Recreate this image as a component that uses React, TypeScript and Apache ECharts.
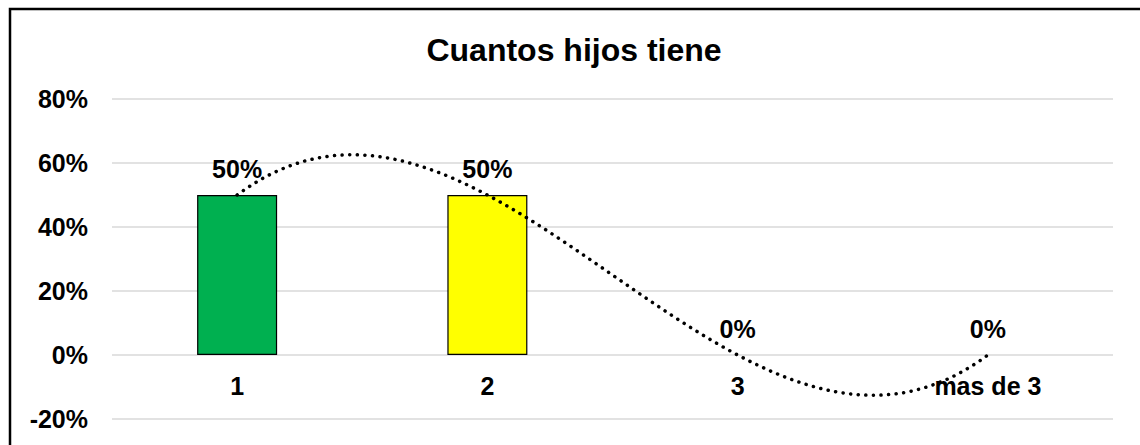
import React, { useEffect, useRef } from "react";
import * as echarts from "echarts";

const title = "Cuantos hijos tiene";
const categories = ["1", "2", "3", "mas de 3"];
const values = [50, 50, 0, 0];
const barColors = ["#00B050", "#FFFF00", "#00B050", "#FFFF00"];
const yMin = -20;
const yMax = 80;
const yStep = 20;

// Polynomial (order 3) trendline through the bar values, as the spreadsheet does
function trendPoints(ys: number[], steps: number): [number, number][] {
  const xs = ys.map((_, i) => i + 1);
  const pts: [number, number][] = [];
  for (let s = 0; s <= steps; s++) {
    const x = xs[0] + ((xs[xs.length - 1] - xs[0]) * s) / steps;
    let y = 0;
    for (let i = 0; i < xs.length; i++) {
      let l = 1;
      for (let j = 0; j < xs.length; j++) {
        if (j !== i) l *= (x - xs[j]) / (xs[i] - xs[j]);
      }
      y += ys[i] * l;
    }
    pts.push([x, y]);
  }
  return pts;
}

export default function App() {
  const ref = useRef<HTMLDivElement>(null);
  useEffect(() => {
    if (!ref.current) return;
    const chart = echarts.init(ref.current, undefined, { renderer: "svg" });
    const font = "'Liberation Sans', Arial, sans-serif";
    const plotTop = 99;
    const plotBottom = 26;
    const plotHeight = 445 - plotTop - plotBottom;
    // place the category axis on the zero line (Excel style)
    const zeroOffset = -plotHeight * ((0 - yMin) / (yMax - yMin));
    chart.setOption({
      animation: false,
      backgroundColor: "#ffffff",
      graphic: [
        {
          type: "rect",
          shape: { x: 10, y: 9, width: 1300, height: 800 },
          style: { fill: "none", stroke: "#000000", lineWidth: 2.5 },
          silent: true,
          z: 100,
        },
        {
          type: "text",
          x: 574,
          y: 50,
          style: {
            text: title,
            font: `bold 32px ${font}`,
            fill: "#000000",
            textAlign: "center",
            textVerticalAlign: "middle",
          },
        },
      ],
      grid: {
        left: 112,
        right: 27,
        top: plotTop,
        bottom: plotBottom,
        containLabel: false,
        outerBoundsMode: "none",
      },
      xAxis: [
        {
          type: "category",
          data: categories,
          position: "bottom",
          offset: zeroOffset,
          axisLine: { show: false, onZero: false },
          axisTick: { show: false },
          axisLabel: {
            color: "#000000",
            fontFamily: font,
            fontWeight: "bold",
            fontSize: 25,
            margin: 18,
          },
          splitLine: { show: false },
        },
        {
          type: "value",
          min: 0.5,
          max: 4.5,
          show: false,
          position: "top",
          axisLine: { onZero: false },
        },
      ],
      yAxis: {
        type: "value",
        min: yMin,
        max: yMax,
        interval: yStep,
        axisLine: { show: false, onZero: false },
        axisTick: { show: false },
        axisLabel: {
          formatter: "{value}%",
          color: "#000000",
          fontFamily: font,
          fontWeight: "bold",
          fontSize: 25,
          margin: 24,
        },
        splitLine: { lineStyle: { color: "#d9d9d9", width: 1.5 } },
      },
      series: [
        {
          type: "bar",
          xAxisIndex: 0,
          barWidth: 80,
          data: values.map((v, i) => ({
            value: v,
            itemStyle: {
              color: barColors[i],
              borderColor: "#000000",
              borderWidth: v === 0 ? 0 : 1.2,
            },
          })),
          label: {
            show: true,
            position: "top",
            distance: 14,
            formatter: "{c}%",
            color: "#000000",
            fontFamily: font,
            fontWeight: "bold",
            fontSize: 25,
          },
        },
        {
          type: "line",
          xAxisIndex: 1,
          data: trendPoints(values, 90),
          showSymbol: false,
          symbol: "none",
          smooth: false,
          silent: true,
          lineStyle: { color: "#000000", width: 3.5, type: [0.1, 7.5], cap: "round" },
          z: 5,
        },
      ],
    });
    return () => chart.dispose();
  }, []);
  return (
    <div
      ref={ref}
      style={{ position: "absolute", left: 0, top: 0, width: 1140, height: 445 }}
    />
  );
}
